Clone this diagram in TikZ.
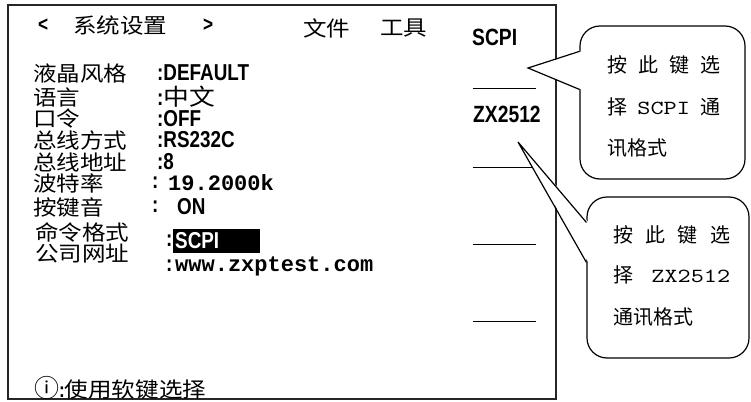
\documentclass[tikz,border=0pt]{standalone}
\usepackage{fontspec}
\setmainfont{Liberation Serif}
\newfontfamily\cjk[FakeStretch=1.12]{Noto Sans CJK SC}
\newfontfamily\cjktip{Noto Sans CJK SC}
\newfontfamily\lcd[FakeStretch=0.82]{Liberation Sans}
\newfontfamily\lcdmono{Liberation Mono}
\newfontfamily\tipmono{lmmono10-regular.otf}[FakeStretch=1.25]

\begin{document}
\begin{tikzpicture}[x=1pt, y=-1pt,
    txt/.style = {inner sep=0pt, anchor=west},
    key/.style = {txt, font=\fontsize{21}{21}\selectfont\cjk},
    val/.style = {txt, font=\fontsize{23}{23}\selectfont\lcd\bfseries},
    num/.style = {txt, font=\fontsize{22}{22}\selectfont\lcdmono\bfseries},
    soft/.style = {txt, font=\fontsize{23.5}{23.5}\selectfont\lcd\bfseries},
    tipbox/.style = {draw, line width=1.2pt, rounded corners=20pt, inner sep=0pt},
    tiptxt/.style = {txt, font=\fontsize{20}{20}\selectfont\cjktip}]
    \useasboundingbox (0,0) rectangle (751,401);
    \draw[line width=1.2pt, black!85] (8,5) rectangle (556,399);
    \node[txt, font=\fontsize{21}{21}\selectfont\lcd\bfseries] (lt) at (38,25) {<};
    \node[key] (title) at (73,26) {系统设置};
    \node[txt, font=\fontsize{21}{21}\selectfont\lcd\bfseries] (gt) at (203,25) {>};
    \node[key] (file) at (303,28) {文件};
    \node[key] (tool) at (380,28) {工具};
    \node[key] (k1) at (33,73) {液晶风格};
    \node[key] (k2) at (33,97) {语言};
    \node[key] (k3) at (33,119) {口令};
    \node[key] (k4) at (33,140) {总线方式};
    \node[key] (k5) at (33,162) {总线地址};
    \node[key] (k6) at (33,183) {波特率};
    \node[key] (k7) at (33,207) {按键音};
    \node[key] (k8) at (35,232) {命令格式};
    \node[key] (k9) at (35,254) {公司网址};
    \node[val] (v1) at (157,73) {:DEFAULT};
    \node[val] (v2) at (157,97) {:{\cjk\mdseries 中文}};
    \node[val] (v3) at (157,119) {:OFF};
    \node[val] (v4) at (157,140) {:RS232C};
    \node[val] (v5) at (157,162) {:8};
    \node[val] (v6c) at (152,183) {:};
    \node[num] (v6) at (168,183) {19.2000k};
    \node[val] (v7c) at (152,207) {:};
    \node[val] (v7) at (177,207) {ON};
    \node[val] (v8c) at (166,241) {:};
    \node[val, fill=black, text=white, inner xsep=2pt, text width=83pt, minimum height=24pt] (v8) at (173,241) {\noindent SCPI};
    \node[val, anchor=base west] (v9c) at (166,271) {:};
    \node[num, anchor=base west] (v9) at (175,271) {www.zxptest.com};
    \node[key] (foot) at (34,388) {{\cjktip\fontsize{25}{25}\selectfont ⓘ}{\lcd\bfseries :}使用软键选择};
    \node[soft] (s1) at (472,37) {SCPI};
    \node[soft] (s2) at (473,114) {ZX2512};
    \foreach \y in {89,167,244,321}
        \draw[line width=1pt] (473,\y) -- (536,\y);
    \node[tipbox, minimum width=165pt, minimum height=153pt] (tip1) at (662.5,102.5) {};
    \coordinate (p1) at (528,68);
    \fill[white] (p1) -- ([xshift=2pt, yshift=-26pt]tip1.north west) -- ([xshift=2pt, yshift=-64pt]tip1.north west) -- cycle;
    \draw[line width=1.2pt] ([yshift=-26pt]tip1.north west) -- (p1) -- ([yshift=-64pt]tip1.north west);
    \node[tiptxt] (t1a) at (607,65) {\makebox[113pt][s]{按\hfill 此\hfill 键\hfill 选}};
    \node[tiptxt] (t1b) at (607,107) {\makebox[113pt][s]{择\hfill {\tipmono SCPI}\hfill 通}};
    \node[tiptxt] (t1c) at (607,148) {讯格式};
    \node[tipbox, minimum width=162pt, minimum height=161pt] (tip2) at (668,277.5) {};
    \coordinate (p2) at (518,142);
    \fill[white] (p2) -- ([xshift=2pt, yshift=-26pt]tip2.north west) -- ([xshift=2pt, yshift=-66pt]tip2.north west) -- cycle;
    \draw[line width=1.2pt] ([yshift=-26pt]tip2.north west) -- (p2) -- ([yshift=-66pt]tip2.north west);
    \node[tiptxt] (t2a) at (613,235) {\makebox[117pt][s]{按\hfill 此\hfill 键\hfill 选}};
    \node[tiptxt] (t2b) at (613,275) {\makebox[117pt][s]{择\hfill {\tipmono ZX2512}}};
    \node[tiptxt] (t2c) at (613,317) {通讯格式};
\end{tikzpicture}
\end{document}
